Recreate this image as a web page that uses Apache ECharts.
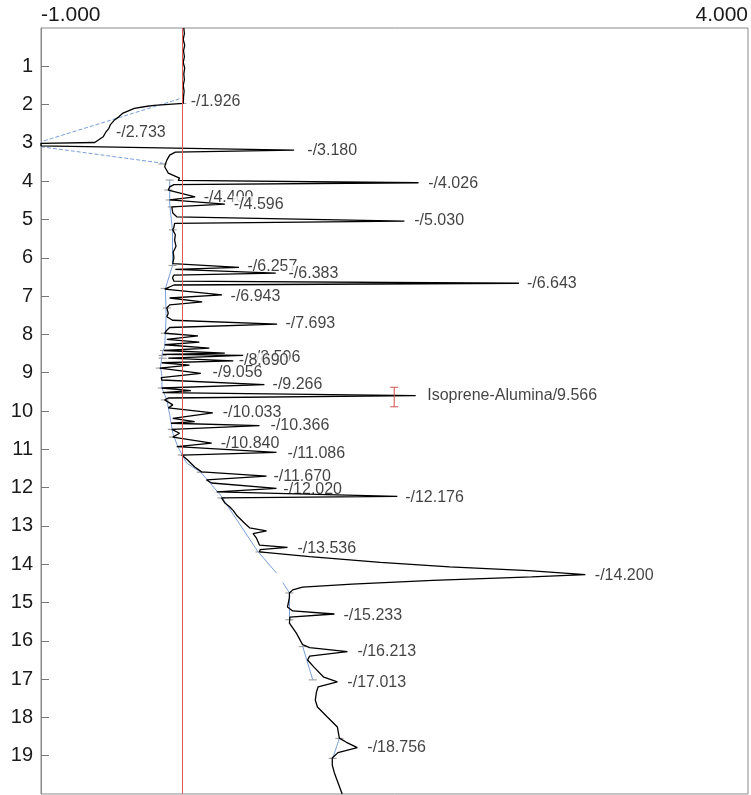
<!DOCTYPE html>
<html><head><meta charset="utf-8">
<script src="https://cdn.jsdelivr.net/npm/echarts@6/dist/echarts.min.js"></script>
<style>html,body{margin:0;padding:0;background:#fff;}#c{width:751px;height:795px;}</style>
</head><body><div id="c"></div>
<script>
// Signal axis (horizontal) tick labels and time axis (vertical) tick labels
const signalTicks = [-1, 4];
const timeTicks = [1,2,3,4,5,6,7,8,9,10,11,12,13,14,15,16,17,18,19];

// Chromatogram trace: [time (min), signal]
const trace = [
[0.00,0.010],[0.15,0.014],[0.30,0.006],[0.45,0.016],[0.60,0.008],[0.75,0.014],[0.90,0.006],
[1.05,0.016],[1.20,0.010],[1.35,0.014],[1.50,0.006],[1.65,0.012],[1.80,0.008],[1.97,0.006],
[2.02,-0.20],[2.05,-0.26],[2.10,-0.34],[2.22,-0.42],[2.32,-0.45],[2.40,-0.48],[2.53,-0.51],
[2.62,-0.52],[2.71,-0.54],[2.84,-0.56],[2.99,-0.62],[3.01,-1.0],[3.08,-1.0],[3.19,0.79],
[3.24,-0.05],[3.32,-0.09],[3.45,-0.11],[3.55,-0.12],[3.63,-0.125],[3.72,-0.11],[3.79,-0.10],
[3.92,-0.02],[3.98,-0.03],[4.04,1.67],[4.09,-0.06],[4.15,-0.09],[4.23,-0.10],[4.41,0.09],
[4.49,-0.09],[4.60,0.30],[4.67,-0.075],[4.83,-0.068],[4.93,-0.04],[4.98,-0.05],[5.04,1.57],
[5.10,-0.055],[5.20,-0.06],[5.27,-0.068],[5.40,-0.05],[5.54,-0.055],[5.70,-0.045],[5.85,-0.065],
[6.00,-0.06],[6.15,-0.068],[6.20,-0.07],[6.25,0.40],[6.30,-0.05],[6.34,-0.04],[6.40,0.66],
[6.45,-0.06],[6.52,-0.07],[6.61,-0.06],[6.665,2.38],[6.71,-0.06],[6.76,-0.07],[6.82,-0.125],
[6.97,0.28],[7.05,-0.09],[7.15,0.14],[7.23,-0.09],[7.31,-0.11],[7.45,-0.10],[7.54,-0.11],
[7.63,-0.07],[7.73,0.67],[7.82,-0.09],[7.89,-0.11],[7.97,-0.125],[8.04,0.11],[8.13,-0.11],
[8.20,0.12],[8.27,-0.125],[8.36,0.19],[8.42,-0.13],[8.49,0.30],[8.52,-0.14],[8.55,0.43],
[8.62,-0.10],[8.69,0.36],[8.74,-0.146],[8.80,0.05],[8.88,-0.16],[9.02,0.13],[9.13,-0.15],
[9.19,-0.146],[9.31,0.58],[9.40,-0.146],[9.47,0.06],[9.52,-0.14],[9.60,1.65],[9.66,-0.10],
[9.71,-0.125],[9.84,-0.068],[9.92,-0.10],[10.05,0.215],[10.19,-0.068],[10.28,0.087],[10.32,-0.08],
[10.38,0.545],[10.48,-0.075],[10.58,-0.02],[10.68,-0.068],[10.84,0.207],[10.93,-0.04],
[11.08,0.665],[11.15,-0.005],[11.28,0.037],[11.46,0.087],[11.59,0.136],[11.70,0.595],
[11.80,0.17],[11.88,0.207],[12.02,0.665],[12.11,0.242],[12.23,1.52],[12.27,0.277],[12.40,0.30],
[12.50,0.334],[12.60,0.36],[12.72,0.383],[12.93,0.44],[13.05,0.475],[13.13,0.595],[13.20,0.50],
[13.32,0.524],[13.50,0.545],[13.56,0.743],[13.62,0.55],[13.68,0.545],[13.80,0.90],[13.95,1.40],
[14.07,1.89],[14.17,2.45],[14.27,2.85],[14.33,2.47],[14.42,1.77],[14.52,1.20],[14.60,0.85],
[14.67,0.78],[14.75,0.757],[14.86,0.757],[15.00,0.75],[15.12,0.743],[15.22,0.78],[15.30,1.075],
[15.38,0.76],[15.54,0.757],[15.80,0.806],[16.10,0.85],[16.18,0.90],[16.28,1.167],[16.40,0.90],
[16.50,0.885],[16.70,0.934],[16.95,1.00],[17.07,1.096],[17.20,0.96],[17.34,0.948],[17.55,0.94],
[17.73,0.955],[17.99,1.025],[18.25,1.096],[18.54,1.11],[18.65,1.16],[18.79,1.237],[18.92,1.10],
[19.06,1.06],[19.25,1.06],[19.45,1.075],[19.70,1.10],[20.00,1.13]
];

// Integration baselines: [time, signal]
const baseDashedA = [[1.85,-0.02],[2.97,-1.0]];
const baseDashedB = [[3.10,-1.0],[3.53,-0.14]];
const baseMain = [[3.97,-0.09],[4.6,-0.09],[5.3,-0.07],[6.2,-0.07],[6.8,-0.12],[7.5,-0.115],
[8.33,-0.125],[8.45,-0.14],[8.84,-0.155],[9.1,-0.145],[9.4,-0.145],[9.71,-0.11],[10.1,-0.09],
[10.58,-0.068],[10.93,-0.033],[11.36,0.03],[11.6,0.13],[12.2,0.27],[13.65,0.53],[14.23,0.665]];
const baseSegB = [[14.48,0.71],[14.75,0.757],[15.45,0.757]];
const baseSegC = [[16.15,0.851],[17.02,0.922]];
const baseSegD = [[18.55,1.11],[19.07,1.063]];

// Peak start/end markers: [time, signal]
const peakMarks = [[1.97,0.0],[3.55,-0.14],[3.97,-0.09],[4.23,-0.1],[4.49,-0.09],[4.67,-0.075],
[5.27,-0.068],[6.2,-0.07],[6.8,-0.125],[7.31,-0.11],[7.97,-0.125],[8.42,-0.13],[8.55,-0.14],
[8.62,-0.14],[8.88,-0.16],[9.4,-0.146],[9.71,-0.125],[10.48,-0.075],[10.68,-0.068],[11.15,-0.005],
[11.6,0.13],[12.27,0.277],[13.68,0.545],[14.75,0.757],[15.45,0.757],[16.15,0.851],[17.02,0.922],
[18.55,1.11],[19.07,1.063]];

// Peak labels
const labelTimes   = [1.93,2.74,3.20,4.05,4.44,4.60,5.04,6.24,6.40,6.68,7.00,7.73,8.61,8.69,9.01,9.32,9.61,10.05,10.39,10.84,11.10,11.70,12.04,12.25,13.58,14.31,15.33,16.29,17.08,18.80];
const labelSignals = [-0.005,-0.534,0.82,1.675,0.087,0.30,1.576,0.397,0.687,2.373,0.277,0.665,0.418,0.334,0.15,0.574,1.668,0.221,0.56,0.207,0.68,0.58,0.65,1.512,0.75,2.853,1.075,1.174,1.103,1.244];
const labelTexts   = ['-/1.926','-/2.733','-/3.180','-/4.026','-/4.400','-/4.596','-/5.030','-/6.257','-/6.383','-/6.643','-/6.943','-/7.693','-/8.596','-/8.690','-/9.056','-/9.266','Isoprene-Alumina/9.566','-/10.033','-/10.366','-/10.840','-/11.086','-/11.670','-/12.020','-/12.176','-/13.536','-/14.200','-/15.233','-/16.213','-/17.013','-/18.756'];

// Error bar on the named peak: [signal, time from, time to]
const errorBar = [[1.498, 9.38, 9.89]];

const FONT = 'Liberation Sans, Arial, sans-serif';
const swap = arr => arr.map(p => [p[1], p[0]]);

const chart = echarts.init(document.getElementById('c'), null, {renderer:'canvas'});
const baseStyle = {color:'#7a9fd8', width:1};
function baseSeries(data, type){
  return {type:'line', data:swap(data), symbol:'none', z:2, silent:true,
    lineStyle:Object.assign({}, baseStyle, {type:type||'solid'}), animation:false};
}
chart.setOption({
  animation:false,
  grid:{left:41, right:1, top:28, bottom:1, show:true, borderColor:'#8a8a8a', borderWidth:1, containLabel:false},
  xAxis:{
    type:'value', position:'top', min:-1, max:4,
    axisLine:{show:false, onZero:false}, axisTick:{show:false}, splitLine:{show:false},
    axisLabel:{
      customValues:signalTicks, showMinLabel:true, showMaxLabel:true,
      alignMinLabel:'left', alignMaxLabel:'right',
      formatter:v => v.toFixed(3), fontSize:21, fontFamily:FONT, color:'#1a1a1a', margin:2
    }
  },
  yAxis:{
    type:'value', inverse:true, min:0, max:20,
    axisLine:{show:true, onZero:false, lineStyle:{color:'#8a8a8a'}},
    axisTick:{show:true, inside:true, length:8, lineStyle:{color:'#777'}, customValues:timeTicks},
    splitLine:{show:false},
    axisLabel:{customValues:timeTicks, fontSize:20, fontFamily:FONT, color:'#1a1a1a', margin:8}
  },
  series:[
    baseSeries(baseDashedA,'dashed'),
    baseSeries(baseDashedB,'dashed'),
    baseSeries(baseMain),
    baseSeries(baseSegB),
    baseSeries(baseSegC),
    baseSeries(baseSegD),
    {
      type:'scatter', z:2, silent:true, data:swap(peakMarks), symbol:'rect', symbolSize:[8,1.2],
      itemStyle:{color:'#8c8c8c'}
    },
    {
      type:'scatter', z:1, silent:true, symbolSize:0,
      data:labelTexts.map((t,i)=>({name:t, value:[labelSignals[i], labelTimes[i]]})),
      label:{show:true, position:'right', distance:8, formatter:'{b}', fontSize:16,
        fontFamily:FONT, color:'#111', backgroundColor:'#fff', padding:[0,1]}
    },
    {
      type:'line', data:swap(trace), symbol:'none', z:3, silent:true,
      lineStyle:{color:'#000', width:1.3},
      markLine:{silent:true, symbol:'none', label:{show:false},
        lineStyle:{color:'#e05a5a', width:1, type:'solid'}, data:[{xAxis:0}]}
    },
    {
      type:'custom', z:4, silent:true, data:errorBar, encode:{x:0, y:[1,2]},
      renderItem:function(params, api){
        const a = api.coord([api.value(0), api.value(1)]);
        const b = api.coord([api.value(0), api.value(2)]);
        const st = {stroke:'#d0504f', lineWidth:1};
        return {type:'group', children:[
          {type:'line', shape:{x1:a[0], y1:a[1], x2:b[0], y2:b[1]}, style:st},
          {type:'line', shape:{x1:a[0]-4, y1:a[1], x2:a[0]+4, y2:a[1]}, style:st},
          {type:'line', shape:{x1:b[0]-4, y1:b[1], x2:b[0]+4, y2:b[1]}, style:st}
        ]};
      }
    }
  ]
});
</script></body></html>
